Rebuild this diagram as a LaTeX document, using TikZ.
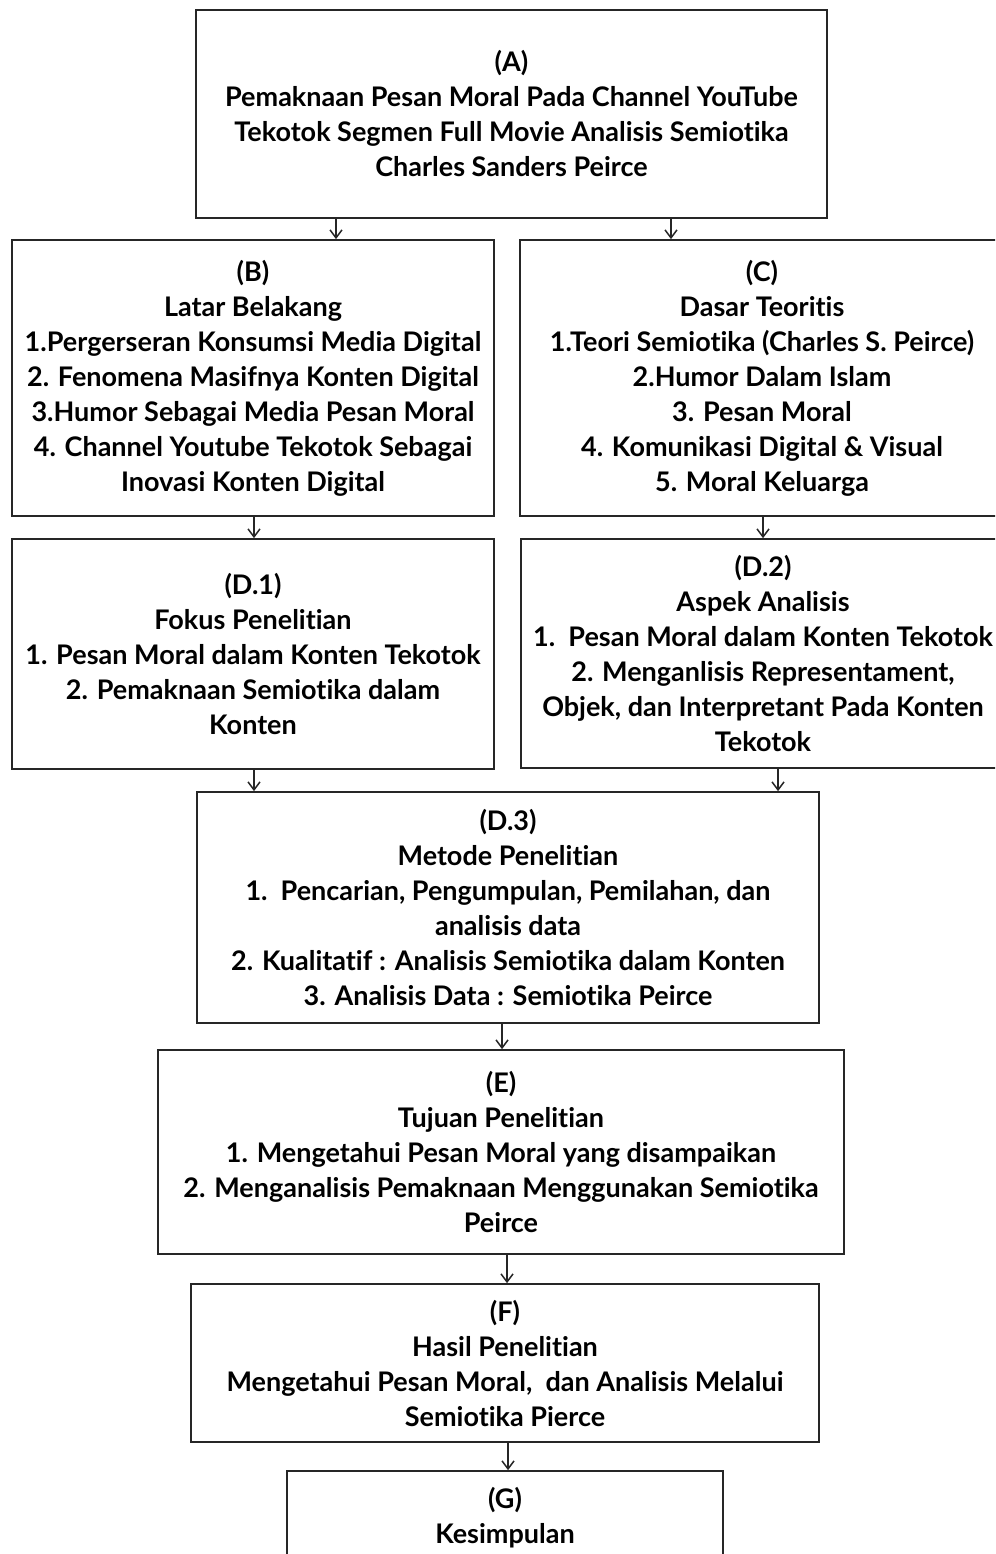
\documentclass[tikz,border=0pt]{standalone}
\usepackage{fontspec}
\setmainfont{Lato}[Ligatures={NoCommon}]
\usetikzlibrary{arrows.meta}
\begin{document}
\begin{tikzpicture}[x=1pt,y=-1pt,
  box/.style={draw=black!85, line width=1.7pt, inner sep=0pt, align=center,
    font=\fontsize{27}{35}\selectfont\bfseries},
  lbl/.style={inner sep=0pt, align=center, font=\fontsize{27}{35}\selectfont\bfseries},
  arr/.style={draw=black!85, line width=1.2pt, -{Straight Barb[length=8pt,width=12pt,line width=1.5pt]}}]
\useasboundingbox (0,0) rectangle (995,1554);
\clip (0,0) rectangle (995,1554);
\fill[white] (0,0) rectangle (995,1554);

\node[box, minimum width=631pt, minimum height=208pt] (A) at (511.5,114)
 {(A)\\Pemaknaan Pesan Moral Pada Channel YouTube\\Tekotok Segmen Full Movie Analisis Semiotika\\Charles Sanders Peirce};
\node[box, minimum width=482pt, minimum height=276pt] (B) at (253,378)
 {(B)\\Latar Belakang\\1.Pergerseran Konsumsi Media Digital\\2. Fenomena Masifnya Konten Digital\\3.Humor Sebagai Media Pesan Moral\\4. Channel Youtube Tekotok Sebagai\\Inovasi Konten Digital};
\node[box, minimum width=484pt, minimum height=276pt] (C) at (762,378)
 {(C)\\Dasar Teoritis\\1.Teori Semiotika (Charles S. Peirce)\\2.Humor Dalam Islam\\3. Pesan Moral\\4. Komunikasi Digital \& Visual\\5. Moral Keluarga};
\node[box, minimum width=482pt, minimum height=230pt] (D1) at (253,654)
 {(D.1)\\Fokus Penelitian\\1. Pesan Moral dalam Konten Tekotok\\2. Pemaknaan Semiotika dalam\\Konten};
\node[box, minimum width=484pt, minimum height=229pt] (D2) at (763,653.5)
 {(D.2)\\Aspek Analisis\\1.\ \ Pesan Moral dalam Konten Tekotok\\2. Menganlisis Representament,\\Objek, dan Interpretant Pada Konten\\Tekotok};
\node[box, minimum width=622pt, minimum height=231pt] (D3) at (508,907.5)
 {(D.3)\\Metode Penelitian\\1.\ \ Pencarian, Pengumpulan, Pemilahan, dan\\analisis data\\2. Kualitatif : Analisis Semiotika dalam Konten\\3. Analisis Data : Semiotika Peirce};
\node[box, minimum width=686pt, minimum height=204pt] (E) at (501,1152)
 {(E)\\Tujuan Penelitian\\1. Mengetahui Pesan Moral yang disampaikan\\2. Menganalisis Pemaknaan Menggunakan Semiotika\\Peirce};
\node[box, minimum width=628pt, minimum height=158pt] (F) at (505,1363)
 {(F)\\Hasil Penelitian\\Mengetahui Pesan Moral,\ \ dan Analisis Melalui\\Semiotika Pierce};
\node[box, minimum width=436pt, minimum height=228pt] (G) at (505,1585) {};
\node[lbl] (Gt) at (505,1517.5) {(G)\\Kesimpulan};

\coordinate (xab) at (336,0);
\coordinate (xac) at (671,0);
\coordinate (xbd) at (254,0);
\coordinate (xcd) at (763,0);
\coordinate (xd2) at (778,0);
\coordinate (xde) at (502,0);
\coordinate (xef) at (507,0);
\coordinate (xfg) at (508,0);

\draw[arr] (A.south -| xab) -- (B.north -| xab);
\draw[arr] (A.south -| xac) -- (C.north -| xac);
\draw[arr] (B.south -| xbd) -- (D1.north -| xbd);
\draw[arr] (C.south -| xcd) -- (D2.north -| xcd);
\draw[arr] (D1.south -| xbd) -- (D3.north -| xbd);
\draw[arr] (D2.south -| xd2) -- (D3.north -| xd2);
\draw[arr] (D3.south -| xde) -- (E.north -| xde);
\draw[arr] (E.south -| xef) -- (F.north -| xef);
\draw[arr] (F.south -| xfg) -- (G.north -| xfg);
\end{tikzpicture}
\end{document}
